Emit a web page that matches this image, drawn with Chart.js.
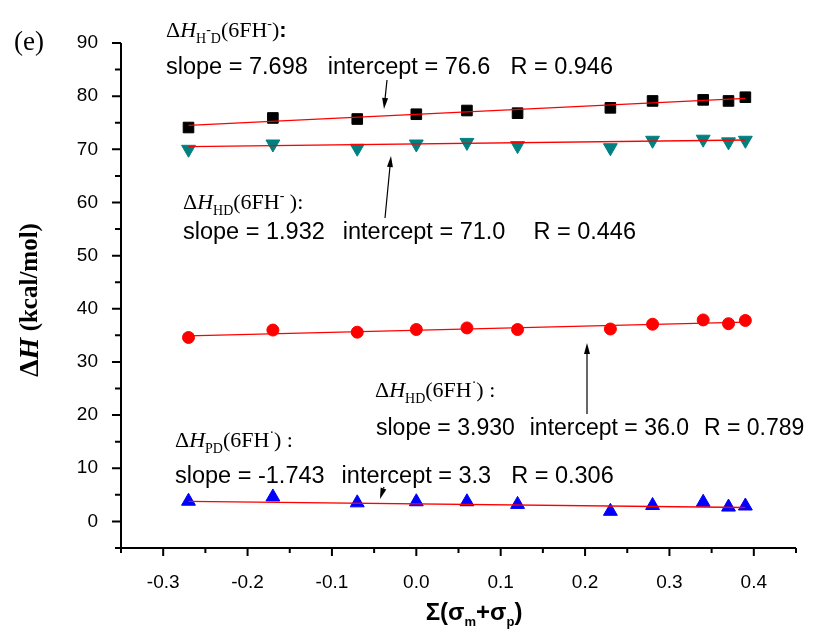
<!DOCTYPE html>
<html>
<head>
<meta charset="utf-8">
<script src="https://cdn.jsdelivr.net/npm/chart.js@4/dist/chart.umd.min.js"></script>
<style>
  html, body { margin: 0; padding: 0; background: #fff; }
  #wrap { width: 832px; height: 635px; }
</style>
</head>
<body>
<div id="wrap"><canvas id="chart" width="832" height="635"></canvas></div>
<script>
// Substituent constant sum (x) shared by all four series
const sigmaSum = [-0.27, -0.17, -0.07, 0.0, 0.06, 0.12, 0.23, 0.28, 0.34, 0.37, 0.39];

// Delta H values (kcal/mol)
const dH_HminusD = [74.1, 75.9, 75.7, 76.6, 77.3, 76.8, 77.8, 79.1, 79.3, 79.1, 79.8];
const dH_HD_anion = [70.0, 71.0, 70.2, 71.0, 71.3, 70.7, 70.3, 71.7, 71.9, 71.4, 71.7];
const dH_HD_radical = [34.6, 36.0, 35.6, 36.1, 36.4, 36.1, 36.2, 37.1, 37.9, 37.2, 37.8];
const dH_PD = [3.8, 4.6, 3.5, 3.7, 3.7, 3.2, 1.9, 3.0, 3.6, 2.7, 2.9];

// Regression lines: end points as drawn
const fitX = [-0.27, 0.39];
const fit_HminusD = [74.5, 79.6];
const fit_HD_anion = [70.5, 71.75];
const fit_HD_radical = [34.9, 37.5];
const fit_PD = [3.77, 2.62];

// Axis ticks
const xTicks = [-0.3, -0.2, -0.1, 0.0, 0.1, 0.2, 0.3, 0.4];
const yTicks = [0, 10, 20, 30, 40, 50, 60, 70, 80, 90];

const SANS = '"Liberation Sans", Arial, sans-serif';
const SERIF = '"Liberation Serif", "Times New Roman", serif';

function pts(xs, ys) {
  return xs.map((x, i) => ({ x: x, y: ys[i] }));
}

function fitSet(ys) {
  return {
    data: pts(fitX, ys), showLine: true, pointRadius: 0,
    borderColor: '#ff0000', borderWidth: 1.3, order: 0
  };
}

function markerSet(ys, color, style, radius, rot) {
  return {
    data: pts(sigmaSum, ys), showLine: false,
    pointStyle: style, pointRadius: radius, pointRotation: rot || 0,
    backgroundColor: color, borderColor: color, borderWidth: 1, order: 1
  };
}

// draw a run of text pieces (for sub/superscripts)
function drawRich(ctx, x, y, parts) {
  parts.forEach(p => {
    ctx.font = p[1];
    ctx.fillText(p[0], x, y + (p[2] || 0));
    x += ctx.measureText(p[0]).width;
  });
  return x;
}

function richWidth(ctx, parts) {
  let w = 0;
  parts.forEach(p => { ctx.font = p[1]; w += ctx.measureText(p[0]).width; });
  return w;
}

function drawStats(ctx, x, y, texts, gaps, size) {
  ctx.font = (size || 23.5) + 'px ' + SANS;
  texts.forEach((t, i) => {
    ctx.fillText(t, x, y);
    x += ctx.measureText(t).width + (gaps[i] || 0);
  });
}

function arrow(ctx, x1, y1, x2, y2) {
  const ang = Math.atan2(y2 - y1, x2 - x1);
  const len = 11, half = 3;
  ctx.beginPath();
  ctx.moveTo(x1, y1);
  ctx.lineTo(x2 - Math.cos(ang) * len, y2 - Math.sin(ang) * len);
  ctx.lineWidth = 1.2;
  ctx.stroke();
  ctx.beginPath();
  ctx.moveTo(x2, y2);
  ctx.lineTo(x2 - Math.cos(ang) * len - Math.sin(ang) * half, y2 - Math.sin(ang) * len + Math.cos(ang) * half);
  ctx.lineTo(x2 - Math.cos(ang) * len + Math.sin(ang) * half, y2 - Math.sin(ang) * len - Math.cos(ang) * half);
  ctx.closePath();
  ctx.fill();
}

function header(sub, tail, minusSub) {
  const big = '22px ' + SERIF, small = '14px ' + SERIF;
  const parts = [['Δ', big], ['H', 'italic ' + big]];
  if (minusSub) {
    parts.push(['H', small, 6], ['-', small, -3], ['D', small, 6]);
  } else {
    parts.push([sub, small, 6]);
  }
  parts.push(['(6FH', big]);
  return parts.concat(tail);
}

const annotations = {
  id: 'annotations',
  afterDraw(chart) {
    const ctx = chart.ctx;
    const area = chart.chartArea;
    const xs = chart.scales.x, ys = chart.scales.y;
    ctx.save();
    ctx.fillStyle = '#000';
    ctx.strokeStyle = '#000';

    // axes lines
    ctx.lineWidth = 2;
    ctx.beginPath();
    ctx.moveTo(area.left, area.top);
    ctx.lineTo(area.left, area.bottom);
    ctx.lineTo(area.right, area.bottom);
    ctx.stroke();

    // major and minor ticks
    ctx.beginPath();
    yTicks.forEach(v => {
      const p = ys.getPixelForValue(v);
      ctx.moveTo(area.left - 9, p); ctx.lineTo(area.left, p);
    });
    const yStep = yTicks[1] - yTicks[0];
    for (let v = yTicks[0] - yStep / 2; v <= ys.max + 1e-9; v += yStep) {
      if (v < ys.min - 1e-9) continue;
      const p = ys.getPixelForValue(v);
      ctx.moveTo(area.left - 6, p); ctx.lineTo(area.left, p);
    }
    xTicks.forEach(v => {
      const p = xs.getPixelForValue(v);
      ctx.moveTo(p, area.bottom); ctx.lineTo(p, area.bottom + 8);
    });
    const xStep = xTicks[1] - xTicks[0];
    for (let v = xTicks[0] - xStep / 2; v <= xs.max + 1e-9; v += xStep) {
      if (v < xs.min - 1e-9) continue;
      const p = xs.getPixelForValue(v);
      ctx.moveTo(p, area.bottom); ctx.lineTo(p, area.bottom + 5);
    }
    ctx.stroke();

    ctx.textBaseline = 'alphabetic';
    ctx.textAlign = 'left';

    // panel label
    ctx.font = '27px ' + SERIF;
    ctx.fillText('(e)', 14, 50);

    // black squares
    drawRich(ctx, 166, 37, header('', [['-', '14px ' + SERIF, -9], [')', '22px ' + SERIF], [':', 'bold 22px ' + SANS]], true));
    drawStats(ctx, 166, 74, ['slope = 7.698', 'intercept = 76.6', 'R = 0.946'], [20, 20]);
    arrow(ctx, 387, 80, 384, 109);

    // teal triangles
    drawRich(ctx, 183, 209, header('HD', [['-', '14px ' + SERIF, -9], [' ):', '22px ' + SERIF]]));
    drawStats(ctx, 183, 239, ['slope = 1.932', 'intercept = 71.0', 'R = 0.446'], [18, 28]);
    arrow(ctx, 385, 218, 391, 156);

    // red circles
    drawRich(ctx, 375, 397, header('HD', [['·', '14px ' + SERIF, -10], [') :', '22px ' + SERIF]]));
    drawStats(ctx, 376, 435, ['slope = 3.930', 'intercept = 36.0', 'R = 0.789'], [15, 15], 23);
    arrow(ctx, 587, 414, 587, 343);

    // blue triangles
    drawRich(ctx, 175, 447, header('PD', [['·', '14px ' + SERIF, -10], [') :', '22px ' + SERIF]]));
    drawStats(ctx, 175, 483, ['slope = -1.743', 'intercept = 3.3', 'R = 0.306'], [17, 20]);
    arrow(ctx, 384, 487, 380, 499);

    // x axis title
    const xt = [['Σ(σ', 'bold 24px ' + SANS], ['m', 'bold 13px ' + SANS, 6], ['+σ', 'bold 24px ' + SANS], ['p', 'bold 13px ' + SANS, 6], [')', 'bold 24px ' + SANS]];
    drawRich(ctx, 474 - richWidth(ctx, xt) / 2, 620, xt);

    // y axis title
    ctx.translate(31, 300);
    ctx.rotate(-Math.PI / 2);
    ctx.textBaseline = 'middle';
    const yt = [['Δ', 'bold 28px ' + SERIF], ['H', 'bold italic 28px ' + SERIF], [' (kcal/mol)', 'bold 25px ' + SERIF]];
    drawRich(ctx, -richWidth(ctx, yt) / 2, 0, yt);
    ctx.restore();
  }
};

const chart = new Chart(document.getElementById('chart').getContext('2d'), {
  type: 'scatter',
  data: {
    datasets: [
      fitSet(fit_HminusD),
      fitSet(fit_HD_anion),
      fitSet(fit_HD_radical),
      fitSet(fit_PD),
      markerSet(dH_HminusD, '#000000', 'rect', 7.5),
      markerSet(dH_HD_anion, '#008080', 'triangle', 8, 180),
      markerSet(dH_HD_radical, '#ff0000', 'circle', 6),
      markerSet(dH_PD, '#0000ff', 'triangle', 8)
    ]
  },
  options: {
    responsive: false,
    animation: false,
    layout: { padding: { left: 0, right: 36, top: 43, bottom: 0 } },
    plugins: { legend: { display: false }, tooltip: { enabled: false } },
    scales: {
      x: {
        type: 'linear', min: -0.35, max: 0.45,
        grid: { display: false }, border: { display: false },
        afterBuildTicks: s => { s.ticks = xTicks.map(v => ({ value: v })); },
        afterFit: s => { s.height = 87; },
        ticks: {
          color: '#000', font: { family: SANS, size: 19 }, padding: 15,
          maxRotation: 0, autoSkip: false,
          callback: v => Number(v).toFixed(1)
        }
      },
      y: {
        type: 'linear', min: -5, max: 90,
        grid: { display: false }, border: { display: false },
        afterBuildTicks: s => { s.ticks = yTicks.map(v => ({ value: v })); },
        afterFit: s => { s.width = 121; },
        ticks: {
          color: '#000', font: { family: SANS, size: 19 }, padding: 15,
          callback: v => String(v)
        }
      }
    }
  },
  plugins: [annotations]
});
</script>
</body>
</html>
